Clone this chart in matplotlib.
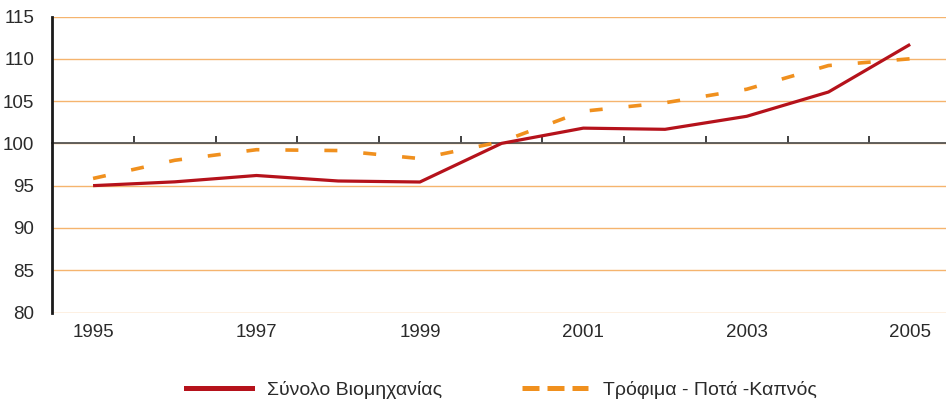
import matplotlib
matplotlib.use("Agg")
import matplotlib.pyplot as plt
from matplotlib.lines import Line2D
from matplotlib.ticker import FixedLocator, NullFormatter

plt.rcParams['font.family'] = ['Liberation Sans', 'DejaVu Sans']

years = ['1995', '1996', '1997', '1998', '1999', '2000', '2001', '2002', '2003', '2004', '2005']
industry_total = [95.0, 95.45, 96.2, 95.55, 95.43, 100.0, 101.8, 101.66, 103.2, 106.07, 111.7]
food_drink_tobacco = [95.85, 98.0, 99.25, 99.15, 98.2, 100.2, 103.8, 104.8, 106.4, 109.2, 110.0]
label_total = 'Σύνολο Βιομηχανίας'
label_food = 'Τρόφιμα - Ποτά -Καπνός'
yticks = [80, 85, 90, 95, 100, 105, 110, 115]

RED = '#B5121B'
ORANGE = '#F0901E'
GRID = '#F5B46E'
TXT = '#2a2a2a'

fig = plt.figure(figsize=(9.46, 4.05), dpi=100)
ax = fig.add_axes([52.2 / 946, 1 - 312.5 / 405, (951 - 52.2) / 946, (312.5 - 16.5) / 405])

x = list(range(len(years)))
ax.plot(x, industry_total, color=RED, lw=2.3, zorder=4, solid_capstyle='butt')
ax.plot(x, food_drink_tobacco, color=ORANGE, lw=2.6, zorder=3,
        linestyle=(0, (3.6, 7.2)), dash_capstyle='butt')

ax.set_xlim(-0.5, len(years) - 0.5)
ax.set_ylim(80, 115)
ax.set_yticks(yticks)
ax.set_yticklabels([str(v) for v in yticks])
ax.yaxis.grid(True, color=GRID, lw=1.0, zorder=0)
ax.set_axisbelow(True)
ax.tick_params(axis='y', length=0, pad=13, labelsize=13.5, labelcolor=TXT)

for s in ['top', 'right']:
    ax.spines[s].set_visible(False)
ax.spines['left'].set_color('#1a1a1a')
ax.spines['left'].set_linewidth(2.0)
ax.spines['bottom'].set_position(('data', 100))
ax.spines['bottom'].set_color('#555555')
ax.spines['bottom'].set_linewidth(1.3)
ax.spines['bottom'].set_zorder(2)

# ticks between categories on the 100 line
ax.xaxis.set_major_locator(FixedLocator([i + 0.5 for i in range(len(years) - 1)]))
ax.xaxis.set_major_formatter(NullFormatter())
ax.tick_params(axis='x', direction='in', length=5, width=1.3, color='#333333')

# category labels at the bottom of the plot
sec = ax.secondary_xaxis('bottom')
sec.set_xticks(x[::2])
sec.set_xticklabels(years[::2])
sec.tick_params(length=0, pad=8, labelsize=13.5, labelcolor=TXT)
sec.spines['bottom'].set_visible(False)

handles = [Line2D([0], [0], color=RED, lw=3.6),
           Line2D([0], [0], color=ORANGE, lw=3.6, linestyle=(0, (3.4, 1.6)))]
leg = fig.legend(handles, [label_total, label_food], loc='center',
                 bbox_to_anchor=(0.530, 0.037), ncol=2, frameon=False,
                 fontsize=14, handlelength=3.4, handletextpad=0.77,
                 columnspacing=4.1, labelcolor=TXT)

fig.savefig('out.png', dpi=100)
